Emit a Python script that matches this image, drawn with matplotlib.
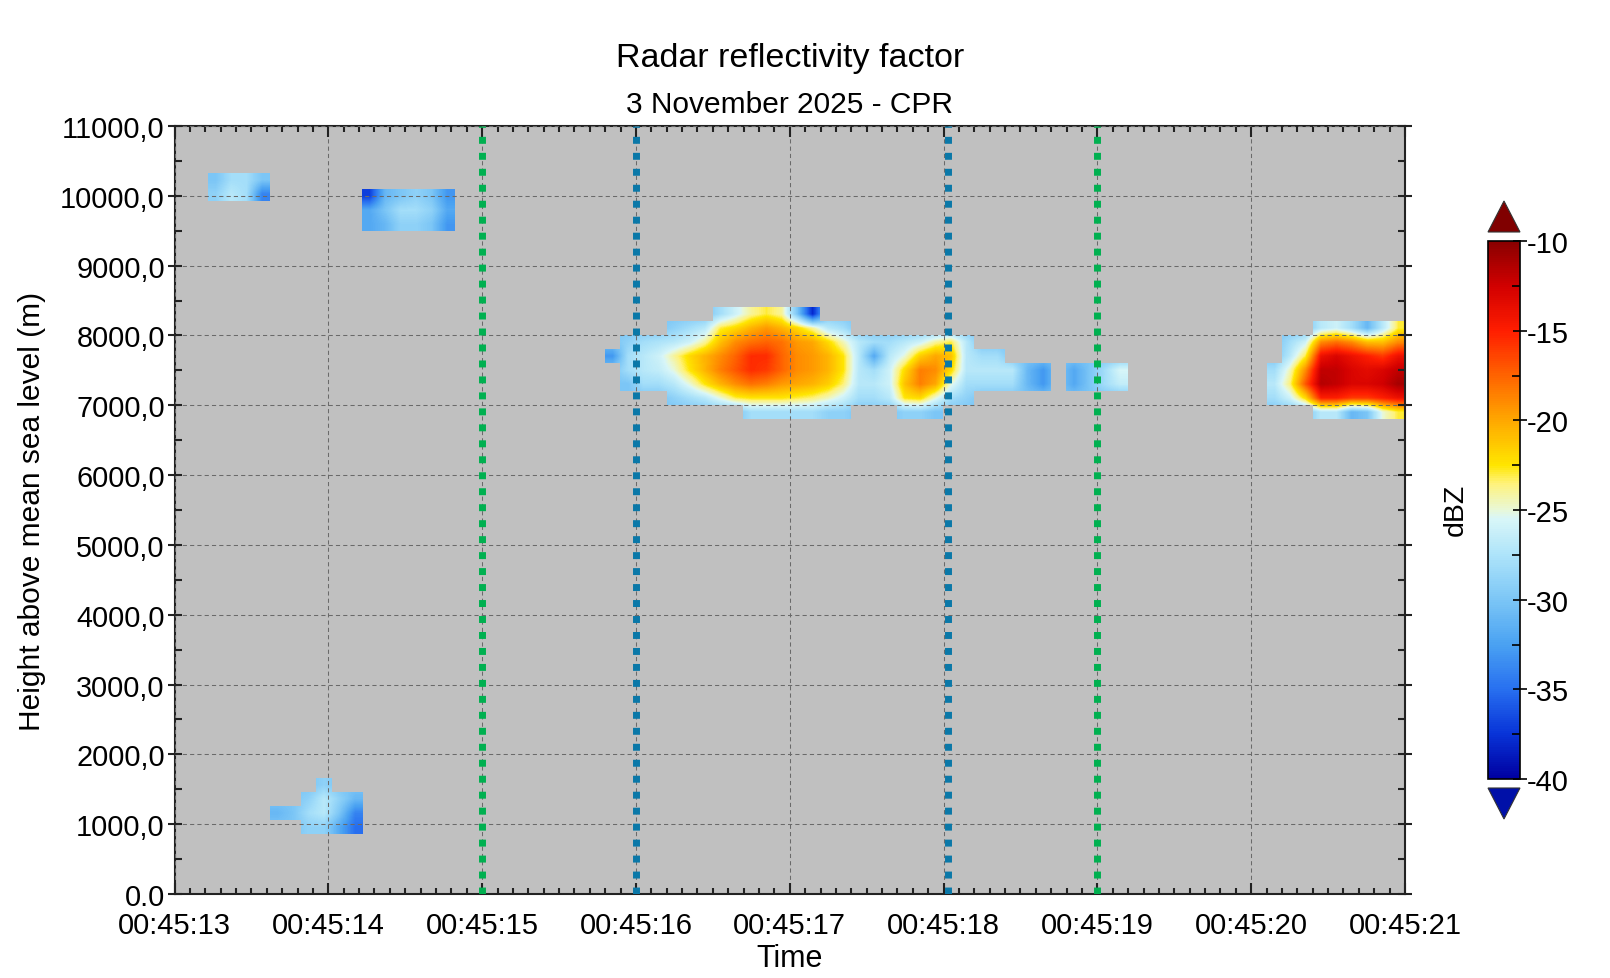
import numpy as np
import matplotlib
matplotlib.use("Agg")
import matplotlib.pyplot as plt
from matplotlib.colors import LinearSegmentedColormap, ListedColormap, Normalize
from matplotlib.ticker import MultipleLocator, FixedLocator
from matplotlib.patches import Polygon
import matplotlib.cm as cm

plt.rcParams['font.family'] = ['Liberation Sans', 'DejaVu Sans']
plt.rcParams['axes.unicode_minus'] = False

N = np.nan

# ---------------- data ----------------
time_ticks = [13, 14, 15, 16, 17, 18, 19, 20, 21]          # seconds after 00:45:00
time_labels = ['00:45:13', '00:45:14', '00:45:15', '00:45:16', '00:45:17',
               '00:45:18', '00:45:19', '00:45:20', '00:45:21']
height_ticks = [0, 1000, 2000, 3000, 4000, 5000, 6000, 7000, 8000, 9000, 10000, 11000]
height_labels = ['0.0', '1000,0', '2000,0', '3000,0', '4000,0', '5000,0', '6000,0',
                 '7000,0', '8000,0', '9000,0', '10000,0', '11000,0']
cbar_ticks = [-10, -15, -20, -25, -30, -35, -40]

green_times = [15.0, 19.0]
blue_times = [16.0, 18.03]

DT = 0.1     # s per column
DH = 200.0   # m per row

# mid-level band: columns from 45:15.8, rows top (8200-8400) to bottom (6800-7000)
band_t0, band_h0 = 15.8, 6800.0
band_dbz = [
    [N, N, N, N, N, N, N, -28, -26, -24, -23, -24, -30, -38, N, N, N, N, N, N, N, N, N, N, N, N, N, N, N, N, N, N, N, N],
    [N, N, N, N, -29, -28, -27, -23, -22, -20.5, -19.5, -20.5, -22, -24, -27, -28, N, N, N, N, N, N, N, N, N, N, N, N, N, N, N, N, N, N],
    [N, -29, -28, -27.5, -27, -26, -24, -21, -19, -18, -17.5, -18, -19.5, -20, -22, -24.5, -27, -28, -28, -27, -26, -24, -23, -27, N, N, N, N, N, N, N, N, N, N],
    [-33, -28, -27, -26, -24, -22, -20.5, -19, -17.5, -15.5, -15.5, -17.5, -19, -19.5, -20.5, -22.5, -27, -32, -27, -25, -21.5, -20, -21, -27, -28, -28, N, N, N, N, N, N, N, N],
    [N, -28, -27, -26.5, -25, -22.5, -20.5, -18.5, -17, -15.5, -16, -17.5, -19, -19.5, -20.5, -22.5, -27, -28, -26, -22, -18.5, -19, -22, -27, -27, -27, -27, -31, -33, N, -32, -30, -28, -25.5],
    [N, -30, -28, -28, -27, -25, -22.5, -20.5, -19, -18, -18.5, -19.5, -20, -20.5, -21.5, -23.5, -27, -27, -26, -21, -18.5, -20, -25, -28, -28, -28, -28, -31, -33, N, -32, -30, -28, -26.5],
    [N, N, N, N, -29, -28, -27, -25, -23, -22.5, -22.5, -22.5, -23, -23.5, -24.5, -26, -28, -28, -27, -22.5, -22, -25, -28, -29, N, N, N, N, N, N, N, N, N, N],
    [N, N, N, N, N, N, N, N, N, -28, -28, -28, -28, -28, -29, -29, N, N, N, -29, -29, -30, N, N, N, N, N, N, N, N, N, N, N, N],
]

# right cloud: columns from 45:20.1, rows top (8000-8200) to bottom (6800-7000)
right_t0, right_h0 = 20.1, 6800.0
right_dbz = [
    [N, N, N, -27, -26, -28, -31, -27, -23],
    [N, -28, -26, -19, -18, -19, -21, -21, -19],
    [N, -27, -23, -14, -13, -14, -15, -16, -14],
    [-28, -24.5, -19, -12, -12, -13, -13.5, -13, -12],
    [-27, -23.5, -17, -11.5, -12, -13, -13, -12.5, -11],
    [-28, -26, -22, -15, -15, -16, -16, -15, -14],
    [N, N, N, -27, -27, -31, -30, -25, -23],
]

# high cloud 1: columns from 45:13.22, rows 10120-10320 .. 9920-10120
high1_t0, high1_h0 = 13.22, 9920.0
high1_dbz = [
    [-30, -28, -28, -30],
    [-29, -27, -28, -34],
]

# high cloud 2: columns from 45:14.22, rows 9900-10100 .. 9500-9700
high2_t0, high2_h0 = 14.22, 9500.0
high2_dbz = [
    [-37, -31, -30, -29, -30, -33],
    [-32, -30, -28, -28, -29, -32],
    [-32, -31, -29, -29, -30, -33],
]

# low cloud: columns from 45:13.62, rows 1460-1660 .. 860-1060
low_t0, low_h0 = 13.62, 860.0
low_dbz = [
    [N, N, N, -29, N, N],
    [N, N, -29, -27, -29, -31],
    [-31, -30, -28, -27, -30, -34],
    [N, N, -29, -29, -32, -35],
]

clouds = [
    (band_t0, band_h0, band_dbz),
    (right_t0, right_h0, right_dbz),
    (high1_t0, high1_h0, high1_dbz),
    (high2_t0, high2_h0, high2_dbz),
    (low_t0, low_h0, low_dbz),
]

# ---------------- style ----------------
BG = '#c0c0c0'
cmap = LinearSegmentedColormap.from_list('radar', [
    ((-40 + 40) / 30, '#0000a0'),
    ((-37.5 + 40) / 30, '#0834d8'),
    ((-35 + 40) / 30, '#2870f0'),
    ((-32.5 + 40) / 30, '#4aa2f2'),
    ((-30 + 40) / 30, '#7cc6f6'),
    ((-27.5 + 40) / 30, '#aee4fa'),
    ((-25.5 + 40) / 30, '#d8f6f8'),
    ((-25 + 40) / 30, '#e8f8d8'),
    ((-23.5 + 40) / 30, '#fff27a'),
    ((-22.5 + 40) / 30, '#ffe600'),
    ((-20 + 40) / 30, '#ffa800'),
    ((-17.5 + 40) / 30, '#ff6400'),
    ((-15 + 40) / 30, '#ff1e00'),
    ((-12.5 + 40) / 30, '#d20000'),
    ((-10 + 40) / 30, '#8a0000'),
])
UNDER = '#0010a8'
OVER = '#800000'
norm = Normalize(vmin=-40, vmax=-10)

fig = plt.figure(figsize=(16.1, 9.79), dpi=100)
W, H = 1610.0, 979.0
ax = fig.add_axes([174.5 / W, 1 - 895 / H, (1405 - 174.5) / W, (895 - 127) / H])
ax.set_facecolor(BG)

mask_cmap = ListedColormap([BG])
mask_cmap.set_bad(alpha=0)

for t0, h0, grid in clouds:
    g = np.array(grid, dtype=float)
    nr, nc = g.shape
    ext = (t0, t0 + nc * DT, h0, h0 + nr * DH)
    filled = np.where(np.isnan(g), -30.0, g)
    ax.imshow(filled, cmap=cmap, norm=norm, extent=ext, origin='upper', aspect='auto',
              interpolation='bilinear', interpolation_stage='data', zorder=1)
    m = np.ma.masked_invalid(np.where(np.isnan(g), 1.0, np.nan))
    ax.imshow(m, cmap=mask_cmap, vmin=0, vmax=2, extent=ext, origin='upper', aspect='auto',
              interpolation='nearest', zorder=1.1)

ax.set_xlim(13, 21)
ax.set_ylim(0, 11000)

ax.set_axisbelow(False)
ax.grid(True, which='major', color='#6a6a6a', linestyle=(0, (4, 3)), linewidth=0.75, zorder=2)

for t in green_times:
    ax.axvline(t, color='#00b050', lw=5, linestyle=(0, (1, 1.3)), zorder=3)
for t in blue_times:
    ax.axvline(t, color='#0a78a8', lw=5, linestyle=(0, (1, 1.3)), zorder=3)

ax.xaxis.set_major_locator(FixedLocator(time_ticks))
ax.set_xticklabels(time_labels)
ax.xaxis.set_minor_locator(MultipleLocator(0.1))
ax.yaxis.set_major_locator(FixedLocator(height_ticks))
ax.set_yticklabels(height_labels)
ax.yaxis.set_minor_locator(MultipleLocator(500))

for s in ax.spines.values():
    s.set_linewidth(1.5)
    s.set_color('#222222')

ax.tick_params(axis='x', which='major', direction='in', length=8, width=1.5,
               top=True, bottom=True, labelsize=21, pad=12, color='#222222')
ax.tick_params(axis='x', which='minor', direction='in', length=4.5, width=1.5,
               top=True, bottom=True, color='#222222')
ax.tick_params(axis='y', which='major', direction='inout', length=10, width=1.5,
               left=True, right=True, labelsize=20.8, pad=2, color='#222222')
ax.tick_params(axis='y', which='minor', direction='in', length=5, width=1.5,
               left=True, right=True, color='#222222')

ax.set_xlabel('Time', fontsize=22, labelpad=3)
ax.set_ylabel('Height above mean sea level (m)', fontsize=21.5, labelpad=10)

cx = (174.5 + 1405) / 2 / W
fig.text(cx, 1 - 67 / H, 'Radar reflectivity factor', fontsize=24.5, ha='center', va='baseline')
fig.text(cx, 1 - 113 / H, '3 November 2025 - CPR', fontsize=21.5, ha='center', va='baseline')

# colorbar
cax = fig.add_axes([1488 / W, 1 - 780 / H, 32 / W, (780 - 242) / H])
sm = cm.ScalarMappable(norm=norm, cmap=cmap)
cbar = fig.colorbar(sm, cax=cax, ticks=cbar_ticks)
cbar.ax.set_yticklabels([str(v) for v in cbar_ticks])
cbar.outline.set_linewidth(1.2)
cbar.ax.yaxis.set_minor_locator(MultipleLocator(2.5))
cbar.ax.tick_params(which='major', direction='inout', length=10, width=1.2, labelsize=21, pad=0)
cbar.ax.tick_params(which='minor', direction='in', length=6, width=1.2)
fig.text(1456 / W, 1 - 510 / H, 'dBZ', rotation=90, fontsize=20.5,
         ha='center', va='center')

pos = cax.get_position()
gap = 9 / H
th = 31 / H
xm = (pos.x0 + pos.x1) / 2
top_tri = Polygon([(pos.x0, pos.y1 + gap), (pos.x1, pos.y1 + gap), (xm, pos.y1 + gap + th)],
                  closed=True, facecolor=OVER, edgecolor='#333333', lw=0.8,
                  transform=fig.transFigure)
bot_tri = Polygon([(pos.x0, pos.y0 - gap), (pos.x1, pos.y0 - gap), (xm, pos.y0 - gap - th)],
                  closed=True, facecolor=UNDER, edgecolor='#333333', lw=0.8,
                  transform=fig.transFigure)
fig.add_artist(top_tri)
fig.add_artist(bot_tri)

fig.savefig('out.png', dpi=100, facecolor='white')
